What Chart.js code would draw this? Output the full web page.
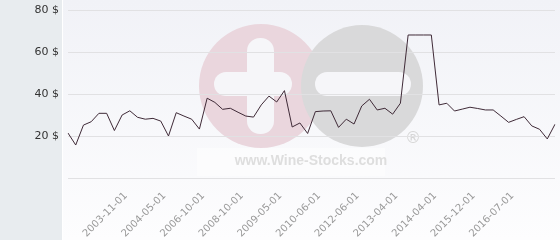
<!DOCTYPE html>
<html><head><meta charset="utf-8">
<script src="https://cdn.jsdelivr.net/npm/chart.js@4/dist/chart.umd.min.js"></script>
<style>html,body{margin:0;padding:0;background:#fff}canvas{display:block}</style>
</head><body>
<canvas id="c" width="560" height="240"></canvas>
<script>
const categories = ['', '', '', '', '', '', '', '', '2003-11-01', '', '', '', '', '2004-05-01', '', '', '', '', '2006-10-01', '', '', '', '', '2008-10-01', '', '', '', '', '2009-05-01', '', '', '', '', '2010-06-01', '', '', '', '', '2012-06-01', '', '', '', '', '2013-04-01', '', '', '', '', '2014-04-01', '', '', '', '', '2015-12-01', '', '', '', '', '2016-07-01', '', '', '', '', ''];
const prices = [21.4,15.7,25.2,26.8,30.8,30.8,22.6,30,32,28.9,28,28.4,27.1,20,31.1,29.5,28,23.3,38,36,32.7,33.2,31.3,29.5,29,34.8,39,36.2,41.6,24.3,26.2,21.2,31.6,31.9,32,24.1,28,25.7,34.3,37.5,32.4,33.2,30.4,35.6,68.1,68.1,68.1,68.1,34.8,35.6,31.9,32.8,33.7,33.1,32.4,32.4,29.5,26.5,27.9,29.2,24.8,23.2,18.6,25.6];
const yTicks = [0, 20, 40, 60, 80];
const currency = '$';

function rr(ctx, x, y, w, h, r) {
  ctx.beginPath();
  ctx.moveTo(x + r, y);
  ctx.arcTo(x + w, y, x + w, y + h, r);
  ctx.arcTo(x + w, y + h, x, y + h, r);
  ctx.arcTo(x, y + h, x, y, r);
  ctx.arcTo(x, y, x + w, y, r);
  ctx.closePath();
  ctx.fill();
}

const bgPlugin = {
  id: 'bg',
  beforeDraw(chart) {
    const ctx = chart.ctx;
    const W = chart.width, H = chart.height;
    ctx.save();
    const g = ctx.createLinearGradient(0, 0, 0, H);
    g.addColorStop(0, '#f1f2f7');
    g.addColorStop(1, '#fdfdfe');
    ctx.fillStyle = g;
    ctx.fillRect(0, 0, W, H);
    ctx.fillStyle = '#e8ecef';
    ctx.fillRect(0, 0, 62, H);
    ctx.fillStyle = '#ffffff';
    ctx.fillRect(62, 0, 1, H);
    // watermark
    ctx.fillStyle = 'rgba(255,255,255,0.45)';
    ctx.fillRect(197, 148, 188, 28);
    ctx.fillStyle = '#ead6dd';
    ctx.beginPath(); ctx.arc(261, 86, 62, 0, Math.PI * 2); ctx.fill();
    ctx.fillStyle = '#f6f6f9';
    rr(ctx, 247, 38, 27, 96, 13);
    rr(ctx, 214, 72, 78, 24, 12);
    ctx.fillStyle = '#d9d9da';
    ctx.beginPath(); ctx.arc(362, 86, 61, 0, Math.PI * 2); ctx.fill();
    ctx.fillStyle = '#f6f6f9';
    rr(ctx, 315, 72, 96, 24, 12);
    ctx.fillStyle = '#dedede';
    ctx.font = 'bold 14px "Liberation Sans", Arial, sans-serif';
    ctx.textAlign = 'center';
    ctx.textBaseline = 'middle';
    ctx.fillText('www.Wine-Stocks.com', 311, 161);
    ctx.fillStyle = '#d6d6d6';
    ctx.font = '16px "DejaVu Sans", sans-serif';
    ctx.fillText('\u00AE', 413, 139);
    ctx.restore();
  }
};

new Chart(document.getElementById('c'), {
  type: 'line',
  data: {
    labels: categories,
    datasets: [{
      data: prices,
      borderColor: '#3f2a37',
      borderWidth: 1,
      pointRadius: 0,
      tension: 0,
      fill: false
    }]
  },
  options: {
    responsive: false,
    animation: false,
    devicePixelRatio: 1,
    layout: { padding: { top: 10, right: 5, left: 0, bottom: 0 } },
    plugins: { legend: { display: false }, tooltip: { enabled: false } },
    scales: {
      x: {
        type: 'category',
        grid: { display: false, drawTicks: false },
        border: { display: false },
        ticks: {
          autoSkip: false,
          maxRotation: 45,
          minRotation: 45,
          padding: 12,
          labelOffset: -4,
          color: '#999999',
          font: { family: '"DejaVu Sans", sans-serif', size: 10 }
        },
        afterFit(s) { s.height = 62; s.paddingLeft = 0; s.paddingRight = 0; }
      },
      y: {
        min: 0,
        max: 80,
        afterBuildTicks(s) { s.ticks = yTicks.map(v => ({ value: v })); },
        grid: { color: '#e1e1e3', drawTicks: false },
        border: { display: false },
        ticks: {
          padding: 9,
          color: '#333333',
          font: { family: '"DejaVu Sans", sans-serif', size: 11 },
          callback: v => v === 0 ? '' : v + ' ' + currency
        },
        afterFit(s) { s.width = 68; s.paddingTop = 0; s.paddingBottom = 0; }
      }
    }
  },
  plugins: [bgPlugin]
});
</script>
</body></html>
